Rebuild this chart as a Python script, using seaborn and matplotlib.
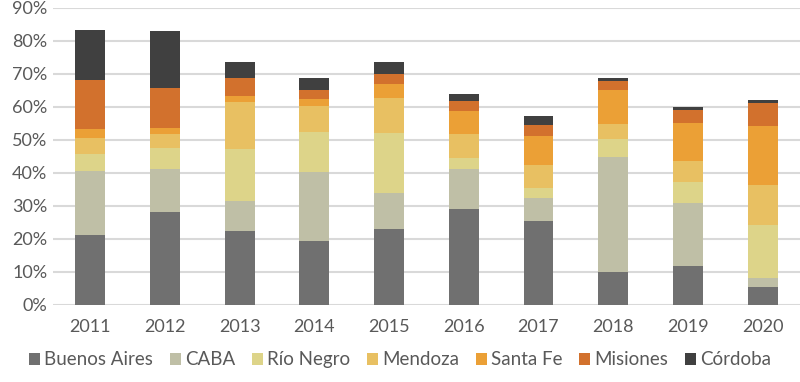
import numpy as np
import pandas as pd
import matplotlib
matplotlib.use("Agg")
import matplotlib.pyplot as plt
import seaborn as sns
from matplotlib.patches import Patch

years = ["2011", "2012", "2013", "2014", "2015", "2016", "2017", "2018", "2019", "2020"]
provinces = ["Buenos Aires", "CABA", "Río Negro", "Mendoza", "Santa Fe", "Misiones", "Córdoba"]

# shares (%) per province and year
buenos_aires = [21.2, 28.2, 22.5, 19.4, 23.0, 29.0, 25.4, 10.0, 11.7, 5.4]
caba = [19.4, 13.0, 9.0, 20.9, 11.0, 12.3, 7.0, 34.8, 19.2, 2.8]
rio_negro = [5.2, 6.2, 15.8, 12.1, 18.2, 3.3, 3.1, 5.5, 6.3, 16.0]
mendoza = [4.6, 4.4, 14.0, 7.9, 10.6, 7.2, 6.9, 4.6, 6.3, 12.0]
santa_fe = [3.0, 1.8, 2.0, 2.0, 4.1, 6.9, 8.7, 10.2, 11.6, 18.1]
misiones = [14.6, 12.1, 5.3, 2.9, 3.0, 3.1, 3.5, 2.7, 3.9, 6.9]
cordoba = [15.1, 17.1, 5.0, 3.4, 3.6, 2.0, 2.6, 0.9, 1.0, 0.9]

colors = ["#707070", "#BFBFA6", "#DDD489", "#E8C062", "#EBA036", "#D2712D", "#404040"]

df = pd.DataFrame({
    "Buenos Aires": buenos_aires, "CABA": caba, "Río Negro": rio_negro,
    "Mendoza": mendoza, "Santa Fe": santa_fe, "Misiones": misiones, "Córdoba": cordoba,
}, index=years) / 100
cum = df.cumsum(axis=1)

sns.set_style("white")
plt.rcParams["font.family"] = ["Lato", "DejaVu Sans"]
text_col = "#595959"

fig = plt.figure(figsize=(8, 3.82), dpi=100)
ax = fig.add_axes([0.066, 0.2016, 0.934, 0.7784])

# stacked bars: draw cumulative totals from the top series down
for prov, col in reversed(list(zip(provinces, colors))):
    sns.barplot(x=years, y=cum[prov].values, color=col, width=0.4,
                saturation=1, linewidth=0, ax=ax, zorder=3)

ax.set_ylim(0, 0.9)
ax.set_xlim(-0.5, 9.5)
ax.set_yticks(np.arange(0, 0.91, 0.1))
ax.set_yticklabels([f"{int(round(v*100))}%" for v in np.arange(0, 0.91, 0.1)])
ax.yaxis.grid(True, color="#D9D9D9", linewidth=1.5, zorder=0)
ax.set_axisbelow(True)
for s in ax.spines.values():
    s.set_visible(False)
ax.tick_params(axis="both", length=0, labelsize=13, colors=text_col)
ax.tick_params(axis="x", pad=10)
ax.tick_params(axis="y", pad=4)
ax.set_xlabel("")
ax.set_ylabel("")

handles = [Patch(facecolor=c, edgecolor="none") for c in colors]
fig.legend(handles, provinces, loc="center", bbox_to_anchor=(0.5, 0.058), ncol=7,
           frameon=False, fontsize=13.5, labelcolor=text_col,
           handlelength=0.6, handleheight=0.6, handletextpad=0.2, columnspacing=0.9)

fig.savefig("out.png", dpi=100)
